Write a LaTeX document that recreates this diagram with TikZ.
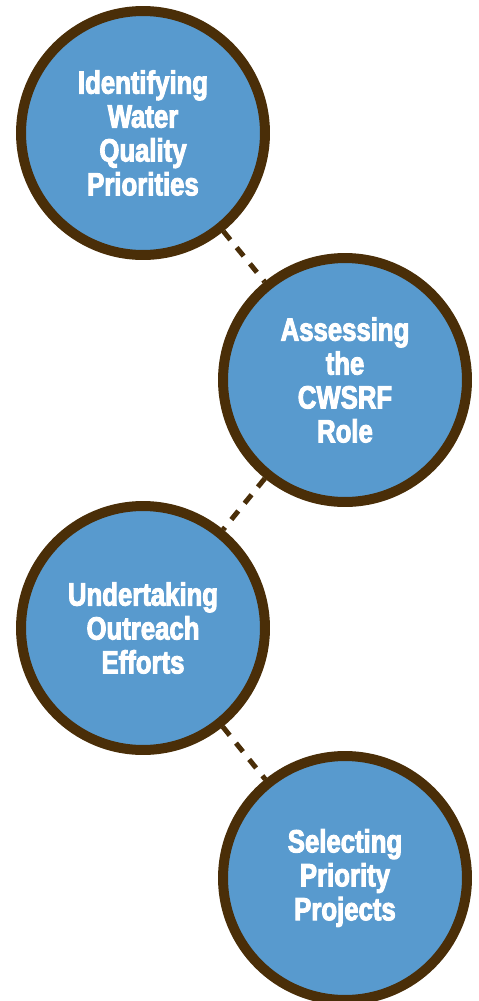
\documentclass[tikz,border=0pt]{standalone}
\usepackage{fontspec}
\newfontfamily\stagefont{Liberation Sans}[FakeStretch=0.8,BoldFeatures={FakeBold=3}]
\definecolor{stageblue}{RGB}{88,154,206}
\definecolor{rimbrown}{RGB}{74,46,8}

\begin{document}
\begin{tikzpicture}[x=0.02cm,y=-0.02cm,
        stage/.style={circle,draw=rimbrown,fill=stageblue,line width=0.2cm,minimum size=4.88cm,inner sep=0pt,
            align=center,text=white,font=\stagefont\bfseries\fontsize{18.3}{19.3}\selectfont},
        link/.style={draw=rimbrown,line width=0.1cm,dash pattern=on 0.22cm off 0.2cm}]
        \useasboundingbox (0,0) rectangle (478,1001);

        \node (identify) [stage] at (143,133) {Identifying\\Water\\Quality\\Priorities};
        \node (assess) [stage] at (345,380) {Assessing\\the\\CWSRF\\Role};
        \node (outreach) [stage] at (143,628) {Undertaking\\Outreach\\Efforts};
        \node (select) [stage] at (345,878) {Selecting\\Priority\\Projects};

        \draw[link] (identify) -- (assess);
        \draw[link] (assess) -- (outreach);
        \draw[link] (outreach) -- (select);
    \end{tikzpicture}
\end{document}
